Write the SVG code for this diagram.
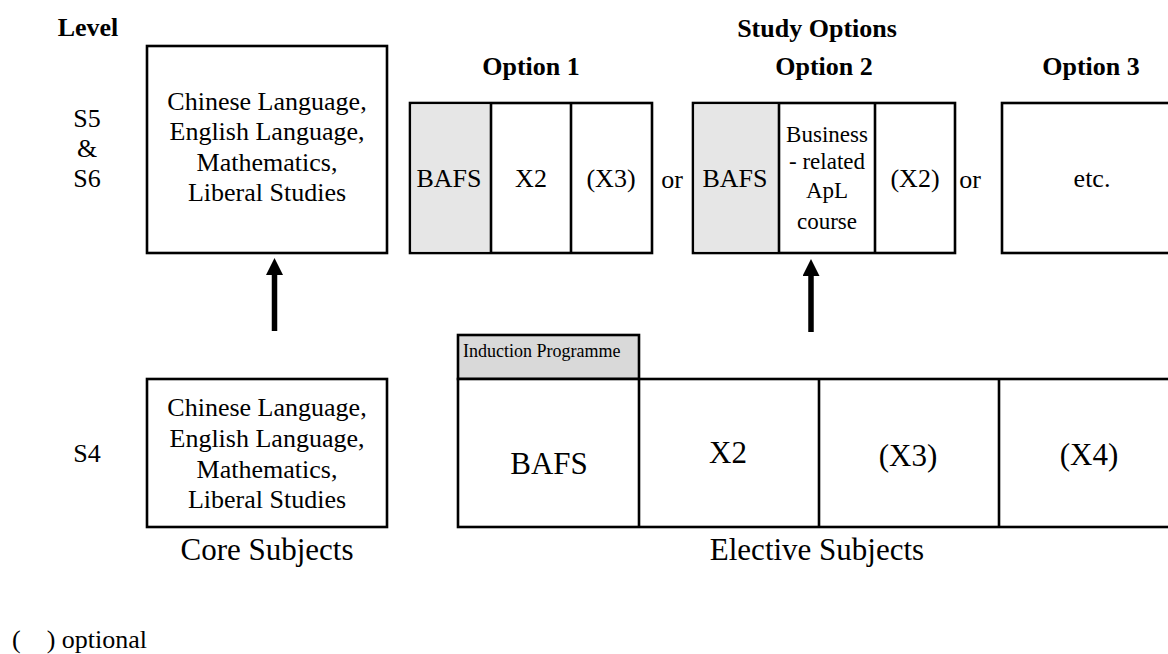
<svg xmlns="http://www.w3.org/2000/svg" width="1168" height="654" viewBox="0 0 1168 654">
  <style>
    text { font-family: "Liberation Serif", "Times New Roman", serif; fill: #000; text-anchor: middle; }
    .title { font-weight: bold; font-size: 26px; }
    .body { font-size: 26px; }
    .cell { font-size: 23px; }
    .big { font-size: 31px; }
    .small { font-size: 18px; text-anchor: start; }
    .box { fill: #fff; stroke: #000; stroke-width: 2.6; }
    .shade { fill: #e6e6e6; stroke: none; }
    .shade2 { fill: #d9d9d9; stroke: #000; stroke-width: 2.6; }
    .rule { stroke: #000; stroke-width: 2.6; fill: none; }
    .arrow { stroke: #000; stroke-width: 5.5; fill: none; marker-end: url(#head); }
  </style>
  <defs>
    <marker id="head" markerUnits="userSpaceOnUse" markerWidth="17" markerHeight="17" viewBox="0 0 17 17" refX="0" refY="8.5" orient="auto">
      <path d="M0,0 L17,8.5 L0,17 Z" fill="#000"/>
    </marker>
  </defs>
  <rect width="1168" height="654" fill="#fff"/>

  <!-- headings -->
  <g id="headings">
    <text class="title" x="88" y="36">Level</text>
    <text class="title" x="817" y="37">Study Options</text>
    <text class="title" x="531" y="75">Option 1</text>
    <text class="title" x="824" y="75">Option 2</text>
    <text class="title" x="1091" y="75">Option 3</text>
  </g>

  <!-- level labels -->
  <g id="level-s5-s6">
    <text class="body" x="87" y="127">S5</text>
    <text class="body" x="87" y="157">&amp;</text>
    <text class="body" x="87" y="187">S6</text>
  </g>
  <g id="level-s4">
    <text class="body" x="87" y="462">S4</text>
  </g>

  <!-- core subjects, S5 and S6 -->
  <g id="core-s5-s6">
    <rect class="box" x="147" y="46" width="240" height="207"/>
    <text class="body" x="267" y="110">Chinese Language,</text>
    <text class="body" x="267" y="140">English Language,</text>
    <text class="body" x="267" y="171">Mathematics,</text>
    <text class="body" x="267" y="201">Liberal Studies</text>
  </g>

  <!-- option 1 -->
  <g id="option-1">
    <rect class="box" x="410" y="103" width="242" height="150"/>
    <rect class="shade" x="411.3" y="104.3" width="79.7" height="147.4"/>
    <line class="rule" x1="491" y1="103" x2="491" y2="253"/>
    <line class="rule" x1="571" y1="103" x2="571" y2="253"/>
    <text class="body" x="449" y="187">BAFS</text>
    <text class="body" x="531" y="187">X2</text>
    <text class="body" x="611" y="187">(X3)</text>
  </g>

  <!-- option 2 -->
  <g id="option-2">
    <rect class="box" x="693" y="103" width="262" height="150"/>
    <rect class="shade" x="694.3" y="104.3" width="84.7" height="147.4"/>
    <line class="rule" x1="779" y1="103" x2="779" y2="253"/>
    <line class="rule" x1="875" y1="103" x2="875" y2="253"/>
    <text class="body" x="735" y="187">BAFS</text>
    <text class="cell" x="827" y="142">Business</text>
    <text class="cell" x="827" y="169">- related</text>
    <text class="cell" x="827" y="198">ApL</text>
    <text class="cell" x="827" y="229">course</text>
    <text class="body" x="915" y="187">(X2)</text>
  </g>

  <!-- option 3 -->
  <g id="option-3">
    <rect class="box" x="1002" y="103" width="190" height="150"/>
    <text class="body" x="1092" y="187">etc.</text>
  </g>

  <!-- alternatives between options -->
  <g id="or-labels">
    <text class="body" x="672" y="188">or</text>
    <text class="body" x="970" y="188">or</text>
  </g>

  <!-- core subjects, S4 -->
  <g id="core-s4">
    <rect class="box" x="147" y="379" width="240" height="148"/>
    <text class="body" x="267" y="416">Chinese Language,</text>
    <text class="body" x="267" y="447">English Language,</text>
    <text class="body" x="267" y="478">Mathematics,</text>
    <text class="body" x="267" y="508">Liberal Studies</text>
    <text class="big" x="267" y="560">Core Subjects</text>
  </g>

  <!-- induction programme tab -->
  <g id="induction">
    <rect class="shade2" x="458" y="335" width="181" height="44"/>
    <text class="small" x="463" y="357">Induction Programme</text>
  </g>

  <!-- elective subjects, S4 -->
  <g id="electives-s4">
    <rect class="box" x="458" y="379" width="730" height="148"/>
    <line class="rule" x1="639" y1="379" x2="639" y2="527"/>
    <line class="rule" x1="819" y1="379" x2="819" y2="527"/>
    <line class="rule" x1="999" y1="379" x2="999" y2="527"/>
    <text class="big" x="549" y="474">BAFS</text>
    <text class="big" x="728" y="463">X2</text>
    <text class="big" x="908" y="466">(X3)</text>
    <text class="big" x="1089" y="465">(X4)</text>
    <text class="big" x="817" y="560">Elective Subjects</text>
  </g>

  <!-- progression arrows -->
  <g id="connectors">
    <line class="arrow" x1="274.5" y1="331" x2="274.5" y2="275"/>
    <line class="arrow" x1="811" y1="332" x2="811" y2="276"/>
  </g>

  <!-- key -->
  <g id="legend">
    <text class="body" x="12" y="648" style="text-anchor:start" xml:space="preserve">(    ) optional</text>
  </g>
</svg>
